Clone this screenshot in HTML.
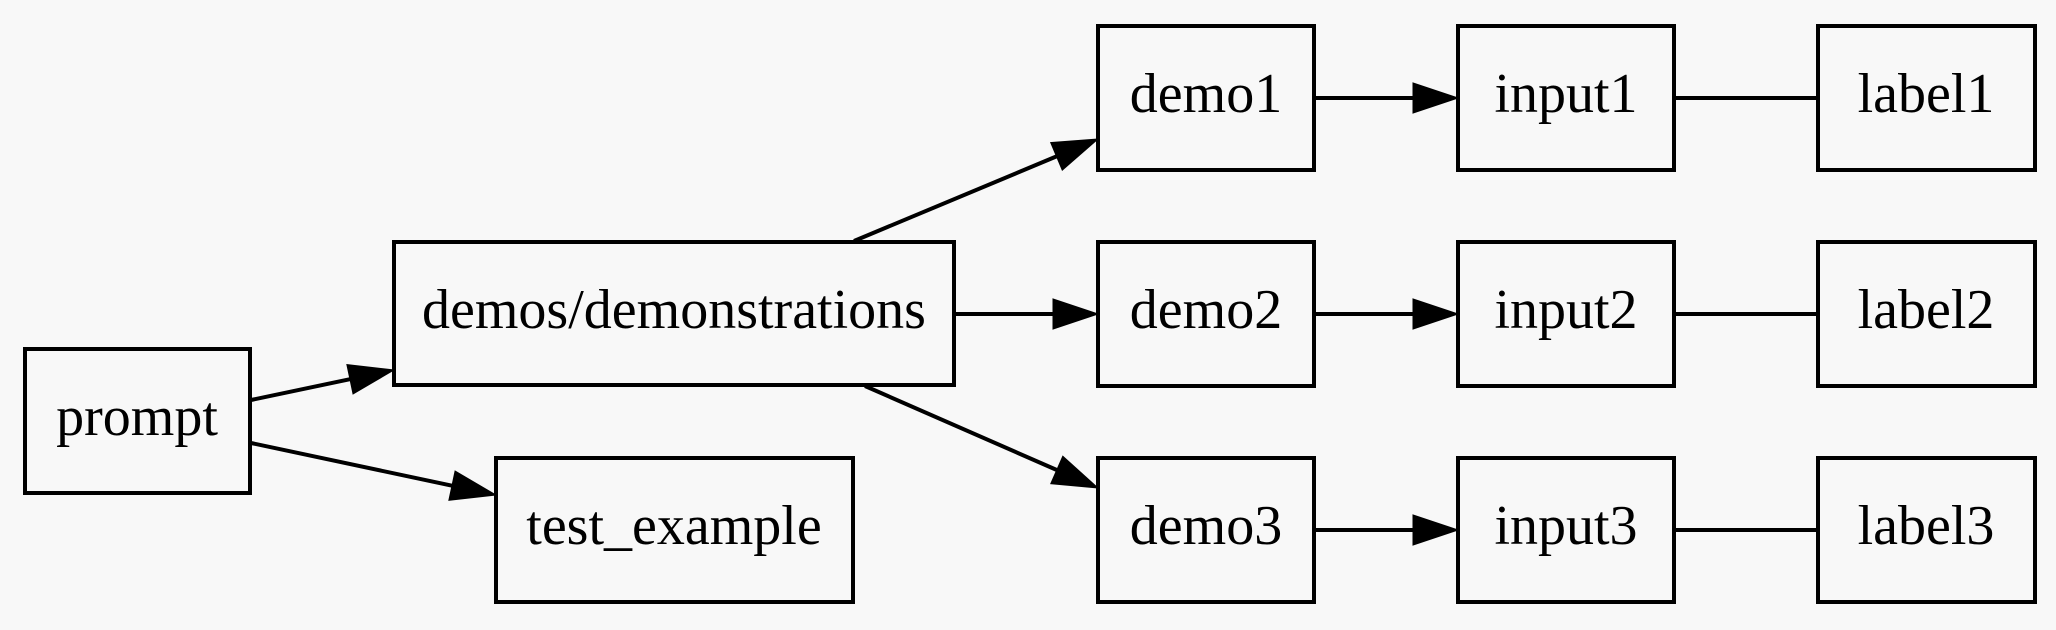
<!DOCTYPE html>
<html><head><meta charset="utf-8"><style>
html,body{margin:0;padding:0;background:#f8f8f8;}
svg{display:block;}
text{font-family:"Liberation Serif",serif;font-size:56px;fill:#000;text-anchor:middle;}
rect{fill:none;stroke:#000;stroke-width:4;}
line{stroke:#000;stroke-width:4;}
polygon{fill:#000;stroke:#000;stroke-width:1;}
</style></head><body>
<svg width="2056" height="630" viewBox="0 0 2056 630" xmlns="http://www.w3.org/2000/svg">
<rect x="0" y="0" width="2056" height="630" style="fill:#f8f8f8;stroke:none"/>
<!-- nodes -->
<rect x="25" y="349" width="225" height="144"/><text x="137" y="435">prompt</text>
<rect x="394" y="242" width="560" height="143"/><text x="674" y="328">demos/demonstrations</text>
<rect x="496" y="458" width="357" height="144"/><text x="674" y="544">test_example</text>

<rect x="1098" y="26" width="216" height="144"/><text x="1206" y="112">demo1</text>
<rect x="1458" y="26" width="216" height="144"/><text x="1566" y="112">input1</text>
<rect x="1818" y="26" width="217" height="144"/><text x="1926" y="112">label1</text>

<rect x="1098" y="242" width="216" height="144"/><text x="1206" y="328">demo2</text>
<rect x="1458" y="242" width="216" height="144"/><text x="1566" y="328">input2</text>
<rect x="1818" y="242" width="217" height="144"/><text x="1926" y="328">label2</text>

<rect x="1098" y="458" width="216" height="144"/><text x="1206" y="544">demo3</text>
<rect x="1458" y="458" width="216" height="144"/><text x="1566" y="544">input3</text>
<rect x="1818" y="458" width="217" height="144"/><text x="1926" y="544">label3</text>

<!-- edges -->
<line x1="251" y1="400" x2="350" y2="379.2"/>
<polygon points="394,370 353.04,393.92 346.88,364.56"/>
<line x1="251" y1="443" x2="452" y2="485.7"/>
<polygon points="496,495 448.87,500.33 455.09,470.99"/>
<line x1="854" y1="241" x2="1056.5" y2="156.4"/>
<polygon points="1098,139 1062.27,170.2 1050.69,142.52"/>
<line x1="955" y1="314" x2="1053" y2="314"/>
<polygon points="1098,314 1053,299 1053,329"/>
<line x1="865" y1="386" x2="1056.8" y2="470"/>
<polygon points="1098,488 1050.77,483.7 1062.8,456.22"/>

<line x1="1315" y1="98" x2="1413" y2="98"/>
<polygon points="1458,98 1413,83 1413,113"/>
<line x1="1315" y1="314" x2="1413" y2="314"/>
<polygon points="1458,314 1413,299 1413,329"/>
<line x1="1315" y1="530" x2="1413" y2="530"/>
<polygon points="1458,530 1413,515 1413,545"/>

<line x1="1675" y1="98" x2="1818" y2="98"/>
<line x1="1675" y1="314" x2="1818" y2="314"/>
<line x1="1675" y1="530" x2="1818" y2="530"/>
</svg>
</body></html>
